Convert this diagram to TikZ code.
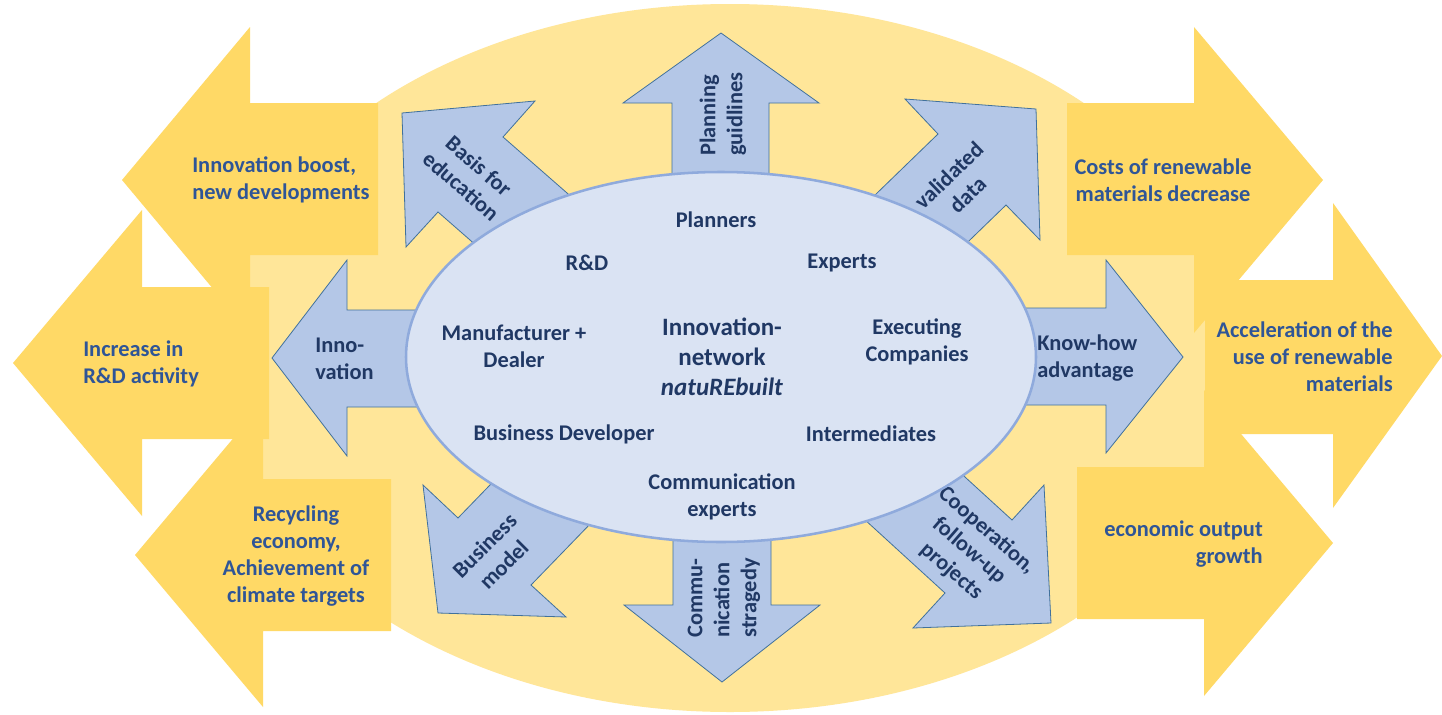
\documentclass[tikz,border=0pt]{standalone}
\usepackage{fontspec}
\setmainfont{Carlito}
\usepackage{tikz}

\definecolor{ovalbg}{HTML}{FFE699}
\definecolor{goldarrow}{HTML}{FFD966}
\definecolor{bluearrow}{HTML}{B4C7E7}
\definecolor{blueline}{HTML}{41719C}
\definecolor{netfill}{HTML}{DAE3F3}
\definecolor{netline}{HTML}{8FAADC}
\definecolor{goldtext}{HTML}{2F5597}
\definecolor{navytext}{HTML}{203864}

\begin{document}
\begin{tikzpicture}[x=0.75pt,y=0.75pt,yscale=-1,xscale=1,
  goldarr/.style={fill=goldarrow},
  bluearr/.style={fill=bluearrow, draw=blueline, line width=0.6pt},
  goldlbl/.style={inner sep=0pt, text=goldtext, font=\fontsize{16.8}{20.25}\selectfont\bfseries},
  navylbl/.style={inner sep=0pt, text=navytext, align=center, font=\fontsize{16.8}{20.25}\selectfont\bfseries}]
\fill [white] (0,0) rectangle (1442,714);
\useasboundingbox (0,0) rectangle (1442,714);

%Shape: Ellipse, background
\fill [ovalbg] (730,358) ellipse [x radius=510, y radius=354];

%Shape: Left Arrows
\fill [goldarr] (378,103) -- (250,103) -- (250,27) -- (122,180) -- (250,333) -- (250,255) -- (378,255) -- cycle ;
\fill [goldarr] (269,287) -- (142,287) -- (142,210) -- (13,363) -- (142,516) -- (142,439) -- (269,439) -- cycle ;
\fill [goldarr] (391,479) -- (263,479) -- (263,403) -- (135,555) -- (263,707) -- (263,631) -- (391,631) -- cycle ;
%Shape: Right Arrows
\fill [goldarr] (1067,103) -- (1194,103) -- (1194,27) -- (1323,180) -- (1194,333) -- (1194,255) -- (1067,255) -- cycle ;
\fill [goldarr] (1205,280) -- (1333,280) -- (1333,203) -- (1442,356) -- (1333,508) -- (1333,434) -- (1205,434) -- cycle ;
\fill [goldarr] (1077,467) -- (1204,467) -- (1204,390) -- (1333,543) -- (1204,696) -- (1204,619) -- (1077,619) -- cycle ;

% Text Node
\draw (192,180) node [goldlbl, anchor=west, align=left] (boost) {Innovation boost,\\new developments};
% Text Node
\draw (83,364) node [goldlbl, anchor=west, align=left] (rdinc) {Increase in\\R\&D activity};
% Text Node
\draw (296,556) node [goldlbl, align=center] (recyc) {Recycling\\economy,\\Achievement of\\climate targets};
% Text Node
\draw (1163,180) node [goldlbl, align=center] (costs) {Costs of renewable\\materials decrease};
% Text Node
\draw (1393,357) node [goldlbl, anchor=east, align=right] (accel) {Acceleration of the\\use of renewable\\materials};
% Text Node
\draw (1263,544) node [goldlbl, anchor=east, align=right] (growth) {economic output\\growth};

%Shape: Up Arrow
\draw [bluearr] (672,250) -- (672,103) -- (623,103) -- (721,33) -- (819,103) -- (769,103) -- (769,250) -- cycle ;
%Shape: Down Arrow
\draw [bluearr] (673,460) -- (673,605) -- (624,605) -- (722,682) -- (820,605) -- (771,605) -- (771,460) -- cycle ;
%Shape: Left Arrow
\draw [bluearr] (500,310) -- (347,310) -- (347,260) -- (272,358) -- (347,456) -- (347,407) -- (500,407) -- cycle ;
%Shape: Right Arrow
\draw [bluearr] (950,308) -- (1106,308) -- (1106,260) -- (1183,357) -- (1106,453) -- (1106,405) -- (950,405) -- cycle ;
%Shape: Up Left Arrow
\draw [bluearr] (631,249) -- (503,137) -- (535,101) -- (402,113) -- (406,247) -- (438,212) -- (566,324) -- cycle ;
%Shape: Up Right Arrow
\draw [bluearr] (810,258) -- (938,134) -- (905,99) -- (1036,109) -- (1040,240) -- (1006,205) -- (878,329) -- cycle ;
%Shape: Down Left Arrow
\draw [bluearr] (582,390) -- (458,518) -- (423,485) -- (438,613) -- (566,617) -- (531,585) -- (655,457) -- cycle ;
%Shape: Down Right Arrow
\draw [bluearr] (884,403) -- (1012,520) -- (1044,485) -- (1051,623) -- (913,628) -- (945,593) -- (817,476) -- cycle ;

% Text Node
\draw (723,114) node [navylbl, rotate=90, align=left] (plan) {Planning\\guidlines};
% Text Node
\draw (724,598) node [navylbl, rotate=90, align=left] (commu) {Commu-\\nication\\stragedy};
% Text Node
\draw (315,359) node [navylbl, anchor=west, align=left] (inno) {Inno-\\vation};
% Text Node
\draw (1037,358) node [navylbl, anchor=west, align=left] (knowhow) {Know-how\\advantage};
% Text Node
\draw (470,176) node [navylbl, rotate=-41] (basis) {Basis for\\education};
% Text Node
\draw (958,185) node [navylbl, rotate=44] (valid) {validated\\data};
% Text Node
\draw (494,555) node [navylbl, rotate=45] (busmod) {Business\\model};
% Text Node
\draw (969,551) node [navylbl, rotate=-41] (coop) {Cooperation,\\follow-up\\projects};

%Shape: Ellipse, network
\draw [fill=netfill, draw=netline, line width=1.9pt] (721,357) ellipse [x radius=315, y radius=185];

% Text Node
\draw (716,220) node [navylbl] (planners) {Planners};
% Text Node
\draw (587,263) node [navylbl] (rd) {R\&D};
% Text Node
\draw (842,263) node [navylbl] (experts) {Experts};
% Text Node
\draw (514,346) node [navylbl] (manuf) {Manufacturer +\\Dealer};
% Text Node
\draw (722,357) node [navylbl, font=\fontsize{18.75}{22.5}\selectfont\bfseries] (network) {Innovation-\\network\\\textit{natuREbuilt}};
% Text Node
\draw (917,342) node [navylbl] (execut) {Executing\\Companies};
% Text Node
\draw (564,434) node [navylbl] (busdev) {Business Developer};
% Text Node
\draw (871,434) node [navylbl] (interm) {Intermediates};
% Text Node
\draw (722,497) node [navylbl] (commexp) {Communication\\experts};

\end{tikzpicture}
\end{document}
